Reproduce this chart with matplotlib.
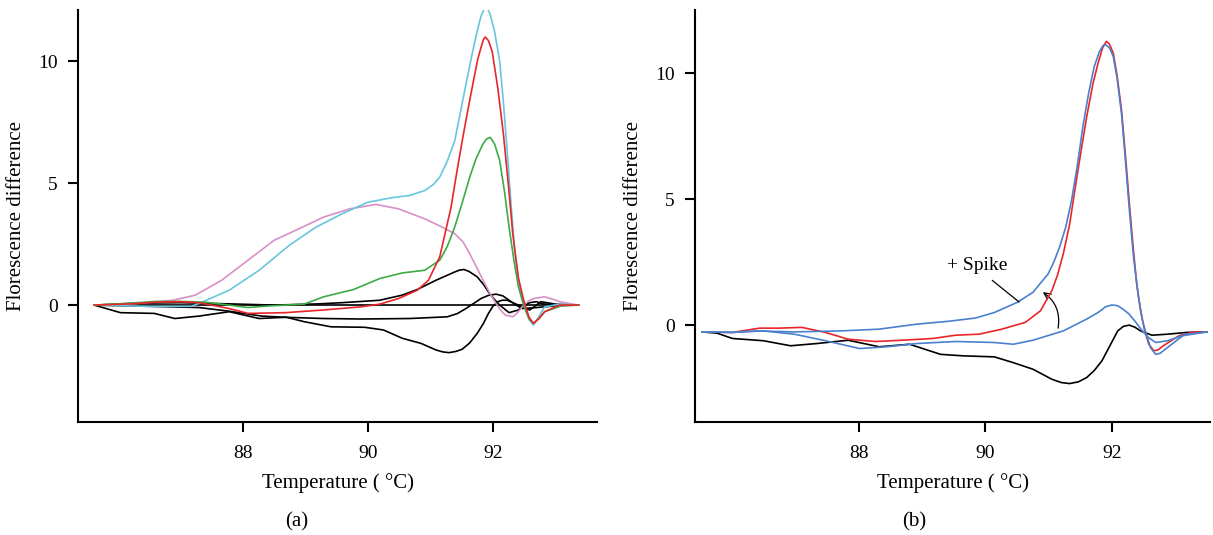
import matplotlib
matplotlib.use("Agg")
import matplotlib.pyplot as plt
from matplotlib.patches import FancyArrowPatch

plt.rcParams['font.family'] = ['Liberation Serif', 'DejaVu Serif']
plt.rcParams['font.size'] = 14

# ---- panel (a) data ----
a_cyan_t = [85.62, 86.5, 87.18, 87.36, 87.78, 88.26, 88.74, 89.17, 89.59, 90.0, 90.37, 90.67,
            90.91, 91.05, 91.15, 91.27, 91.39, 91.48, 91.57, 91.66, 91.75, 91.81, 91.87, 91.92,
            91.96, 92.03, 92.11, 92.17, 92.23, 92.29, 92.35, 92.42, 92.5, 92.58, 92.65, 92.73,
            92.83, 93.07, 93.37]
a_cyan_f = [0, -0.05, -0.05, 0.14, 0.61, 1.43, 2.45, 3.2, 3.75, 4.22, 4.4, 4.5,
            4.7, 4.95, 5.25, 5.9, 6.74, 7.9, 9.06, 10.2, 11.24, 11.85, 12.2, 12.15,
            11.9, 11.2, 10.0, 8.3, 6.3, 4.2, 2.25, 0.9, 0, -0.6, -0.82, -0.5,
            -0.07, 0.04, 0]

a_red_t = [85.62, 86.2, 86.6, 87.0, 87.3, 87.78, 88.08, 88.68, 89.29, 89.89, 90.19, 90.49,
           90.79, 90.97, 91.15, 91.33, 91.42, 91.51, 91.6, 91.69, 91.76, 91.81, 91.85, 91.88,
           91.93, 91.99, 92.08, 92.17, 92.25, 92.32, 92.41, 92.5, 92.58, 92.65, 92.74, 92.83,
           93.07, 93.37]
a_red_f = [0, 0.05, 0.12, 0.14, 0.1, -0.14, -0.34, -0.31, -0.2, -0.07, 0.04, 0.27,
           0.61, 1.02, 1.98, 4.0, 5.4, 6.74, 8.0, 9.2, 10.1, 10.56, 10.9, 11.0,
           10.85, 10.4, 8.9, 7.0, 4.9, 2.9, 1.1, 0.14, -0.5, -0.75, -0.55, -0.27,
           0, 0]

a_green_t = [85.62, 86.2, 86.6, 87.0, 87.4, 87.78, 88.08, 88.38, 88.98, 89.29, 89.77, 90.19,
             90.55, 90.91, 91.15, 91.27, 91.39, 91.51, 91.63, 91.73, 91.84, 91.9, 91.96, 92.03,
             92.11, 92.19, 92.26, 92.34, 92.41, 92.5, 92.58, 92.65, 92.74, 92.83, 93.13, 93.37]
a_green_f = [0, 0.08, 0.15, 0.15, 0.12, 0, -0.1, -0.04, 0.04, 0.34, 0.64, 1.09,
             1.32, 1.43, 1.84, 2.4, 3.2, 4.2, 5.25, 6.0, 6.6, 6.82, 6.88, 6.6,
             5.93, 4.6, 3.2, 1.8, 0.75, -0.07, -0.55, -0.75, -0.55, -0.27, 0, 0]

a_pink_t = [85.62, 86.22, 86.88, 87.24, 87.66, 88.08, 88.5, 88.92, 89.29, 89.71, 90.13, 90.49,
            90.91, 91.15, 91.39, 91.52, 91.63, 91.75, 91.87, 91.96, 92.05, 92.13, 92.2, 92.32,
            92.4, 92.47, 92.56, 92.65, 92.83, 92.95, 93.07, 93.37]
a_pink_f = [0, 0.05, 0.2, 0.41, 1.02, 1.84, 2.66, 3.16, 3.61, 3.95, 4.13, 3.95,
            3.54, 3.25, 2.93, 2.6, 2.11, 1.5, 0.89, 0.45, 0.07, -0.22, -0.41, -0.48,
            -0.3, -0.07, 0.15, 0.27, 0.34, 0.25, 0.14, 0]

a_flat_t = [85.62, 93.37]
a_flat_f = [0, 0]

a_blk1_t = [85.62, 86.3, 87.0, 87.8, 88.5, 89.2, 89.59, 90.19, 90.55, 90.79, 91.09, 91.25,
            91.39, 91.47, 91.54, 91.62, 91.75, 91.85, 91.93, 92.02, 92.11, 92.26, 92.41, 92.5,
            92.59, 92.7, 92.8, 93.1, 93.37]
a_blk1_f = [0, 0.08, 0.1, 0.05, 0.0, 0.05, 0.1, 0.2, 0.41, 0.64, 1.02, 1.2,
            1.36, 1.44, 1.46, 1.38, 1.16, 0.85, 0.54, 0.25, 0, -0.31, -0.2, -0.02,
            0.1, 0.14, 0.05, 0, 0]

a_blk2_t = [85.62, 86.04, 86.58, 86.91, 87.3, 87.78, 88.26, 88.68, 89.29, 89.89, 90.67, 91.27,
            91.43, 91.57, 91.7, 91.81, 91.93, 92.05, 92.16, 92.26, 92.36, 92.47, 92.7, 93.0, 93.37]
a_blk2_f = [0, -0.31, -0.34, -0.55, -0.45, -0.27, -0.55, -0.5, -0.55, -0.57, -0.55, -0.48,
            -0.35, -0.14, 0.08, 0.27, 0.4, 0.45, 0.38, 0.2, 0.02, -0.14, -0.1, -0.03, 0]

a_blk3_t = [85.62, 86.5, 87.3, 87.78, 88.3, 88.7, 88.98, 89.41, 89.95, 90.25, 90.55, 90.85,
            91.09, 91.2, 91.3, 91.41, 91.51, 91.63, 91.75, 91.85, 91.93, 92.0, 92.08, 92.15,
            92.23, 92.41, 92.59, 92.77, 93.0, 93.37]
a_blk3_f = [0, -0.05, -0.1, -0.25, -0.45, -0.5, -0.68, -0.89, -0.91, -1.02, -1.36, -1.57,
            -1.84, -1.92, -1.95, -1.9, -1.81, -1.55, -1.16, -0.75, -0.34, -0.05, 0.14, 0.2,
            0.2, 0, -0.2, 0.14, 0.04, 0]

# ---- panel (b) data ----
b_red_t = [85.52, 86.0, 86.43, 86.74, 87.1, 87.47, 87.83, 88.26, 88.68, 89.17, 89.53, 89.9,
           90.26, 90.63, 90.87, 91.05, 91.14, 91.23, 91.33, 91.42, 91.51, 91.6, 91.7, 91.78,
           91.85, 91.91, 91.96, 92.02, 92.08, 92.15, 92.21, 92.27, 92.33, 92.39, 92.45, 92.51,
           92.58, 92.66, 92.73, 92.81, 93.06, 93.3, 93.5]
b_red_f = [-0.27, -0.29, -0.12, -0.12, -0.09, -0.29, -0.56, -0.65, -0.6, -0.53, -0.4, -0.36,
           -0.16, 0.11, 0.57, 1.37, 2.0, 2.83, 4.0, 5.48, 6.9, 8.27, 9.6, 10.4,
           11.0, 11.26, 11.15, 10.8, 9.9, 8.54, 6.8, 4.95, 3.2, 1.63, 0.6, -0.16,
           -0.75, -1.02, -0.98, -0.82, -0.42, -0.27, -0.27]

b_blue1_t = [85.52, 86.0, 86.37, 86.98, 87.71, 88.32, 88.92, 89.41, 89.84, 90.14, 90.5, 90.75,
             90.99, 91.08, 91.17, 91.27, 91.36, 91.45, 91.54, 91.63, 91.72, 91.8, 91.86, 91.9,
             91.96, 92.02, 92.08, 92.15, 92.21, 92.27, 92.34, 92.42, 92.48, 92.54, 92.61, 92.69,
             92.76, 92.84, 93.12, 93.5]
b_blue1_f = [-0.27, -0.29, -0.23, -0.27, -0.23, -0.16, 0.04, 0.15, 0.28, 0.5, 0.9, 1.3,
             2.03, 2.5, 3.09, 3.9, 4.95, 6.3, 7.88, 9.2, 10.27, 10.85, 11.1, 11.13,
             11.0, 10.66, 9.8, 8.4, 6.6, 4.69, 2.7, 1.1, 0.2, -0.36, -0.9, -1.16,
             -1.12, -0.96, -0.42, -0.27]

b_blue2_t = [85.52, 86.0, 86.49, 86.98, 87.47, 88.01, 88.44, 88.92, 89.53, 90.14, 90.44, 90.75,
             91.23, 91.6, 91.78, 91.9, 92.0, 92.09, 92.18, 92.27, 92.38, 92.48, 92.58, 92.69,
             92.88, 93.18, 93.5]
b_blue2_f = [-0.27, -0.29, -0.23, -0.36, -0.62, -0.93, -0.86, -0.73, -0.65, -0.69, -0.76, -0.6,
             -0.23, 0.24, 0.5, 0.73, 0.8, 0.77, 0.62, 0.44, 0.1, -0.23, -0.5, -0.69,
             -0.62, -0.36, -0.27]

b_black_t = [85.52, 85.76, 86.0, 86.49, 86.92, 87.34, 87.83, 88.32, 88.8, 89.29, 89.65, 90.14,
             90.44, 90.75, 91.05, 91.2, 91.33, 91.47, 91.6, 91.72, 91.84, 91.96, 92.09, 92.18,
             92.27, 92.36, 92.45, 92.63, 92.88, 93.18, 93.5]
b_black_f = [-0.27, -0.32, -0.53, -0.62, -0.82, -0.73, -0.6, -0.86, -0.76, -1.16, -1.22, -1.26,
             -1.49, -1.75, -2.15, -2.28, -2.32, -2.25, -2.08, -1.8, -1.42, -0.85, -0.23, -0.05,
             0, -0.08, -0.23, -0.4, -0.36, -0.29, -0.27]

CYAN = '#67c6dd'
RED = '#e8262a'
GREEN = '#3daa48'
PINK = '#d98fc6'
BLUE = '#4a80cf'

fig = plt.figure(figsize=(12.13, 5.35), dpi=100)
ax1 = fig.add_axes([0.0643, 0.211, 0.428, 0.770])
ax2 = fig.add_axes([0.573, 0.211, 0.4246, 0.770])

lw = 1.2
ax1.plot(a_flat_t, a_flat_f, color='black', lw=lw)
ax1.plot(a_blk1_t, a_blk1_f, color='black', lw=lw)
ax1.plot(a_blk2_t, a_blk2_f, color='black', lw=lw)
ax1.plot(a_blk3_t, a_blk3_f, color='black', lw=lw)
ax1.plot(a_pink_t, a_pink_f, color=PINK, lw=lw)
ax1.plot(a_cyan_t, a_cyan_f, color=CYAN, lw=lw)
ax1.plot(a_green_t, a_green_f, color=GREEN, lw=lw)
ax1.plot(a_red_t, a_red_f, color=RED, lw=lw)

ax2.plot(b_black_t, b_black_f, color='black', lw=lw)
ax2.plot(b_red_t, b_red_f, color=RED, lw=lw)
ax2.plot(b_blue2_t, b_blue2_f, color=BLUE, lw=lw)
ax2.plot(b_blue1_t, b_blue1_f, color=BLUE, lw=lw)

# annotation
ax2.text(89.87, 2.36, '+ Spike', ha='center', va='center', fontsize=14)
ax2.plot([90.11, 90.53], [1.77, 0.92], color='black', lw=0.9)
arr = FancyArrowPatch((91.14, -0.23), (90.87, 1.37), connectionstyle='arc3,rad=0.35',
                      arrowstyle='->', mutation_scale=12, color='black', lw=0.9)
ax2.add_patch(arr)

ax1.set_xlim(85.36, 93.67)
ax1.set_ylim(-4.8, 12.1)
ax2.set_xlim(85.41, 93.55)
ax2.set_ylim(-3.85, 12.5)

for ax in (ax1, ax2):
    ax.spines['top'].set_visible(False)
    ax.spines['right'].set_visible(False)
    ax.spines['left'].set_linewidth(1.5)
    ax.spines['bottom'].set_linewidth(1.5)
    ax.set_xticks([88, 90, 92])
    ax.set_yticks([0, 5, 10])
    ax.tick_params(direction='out', length=7.5, width=1.5, labelsize=14)
    ax.tick_params(axis='x', pad=9)
    ax.tick_params(axis='y', pad=7)
    ax.set_xlabel('Temperature ( °C)', fontsize=15, labelpad=8)
    ax.set_ylabel('Florescence difference', fontsize=15, labelpad=9)

fig.text(0.245, 0.024, '(a)', ha='center', va='center', fontsize=15)
fig.text(0.754, 0.024, '(b)', ha='center', va='center', fontsize=15)

fig.savefig('out.png', dpi=100)
